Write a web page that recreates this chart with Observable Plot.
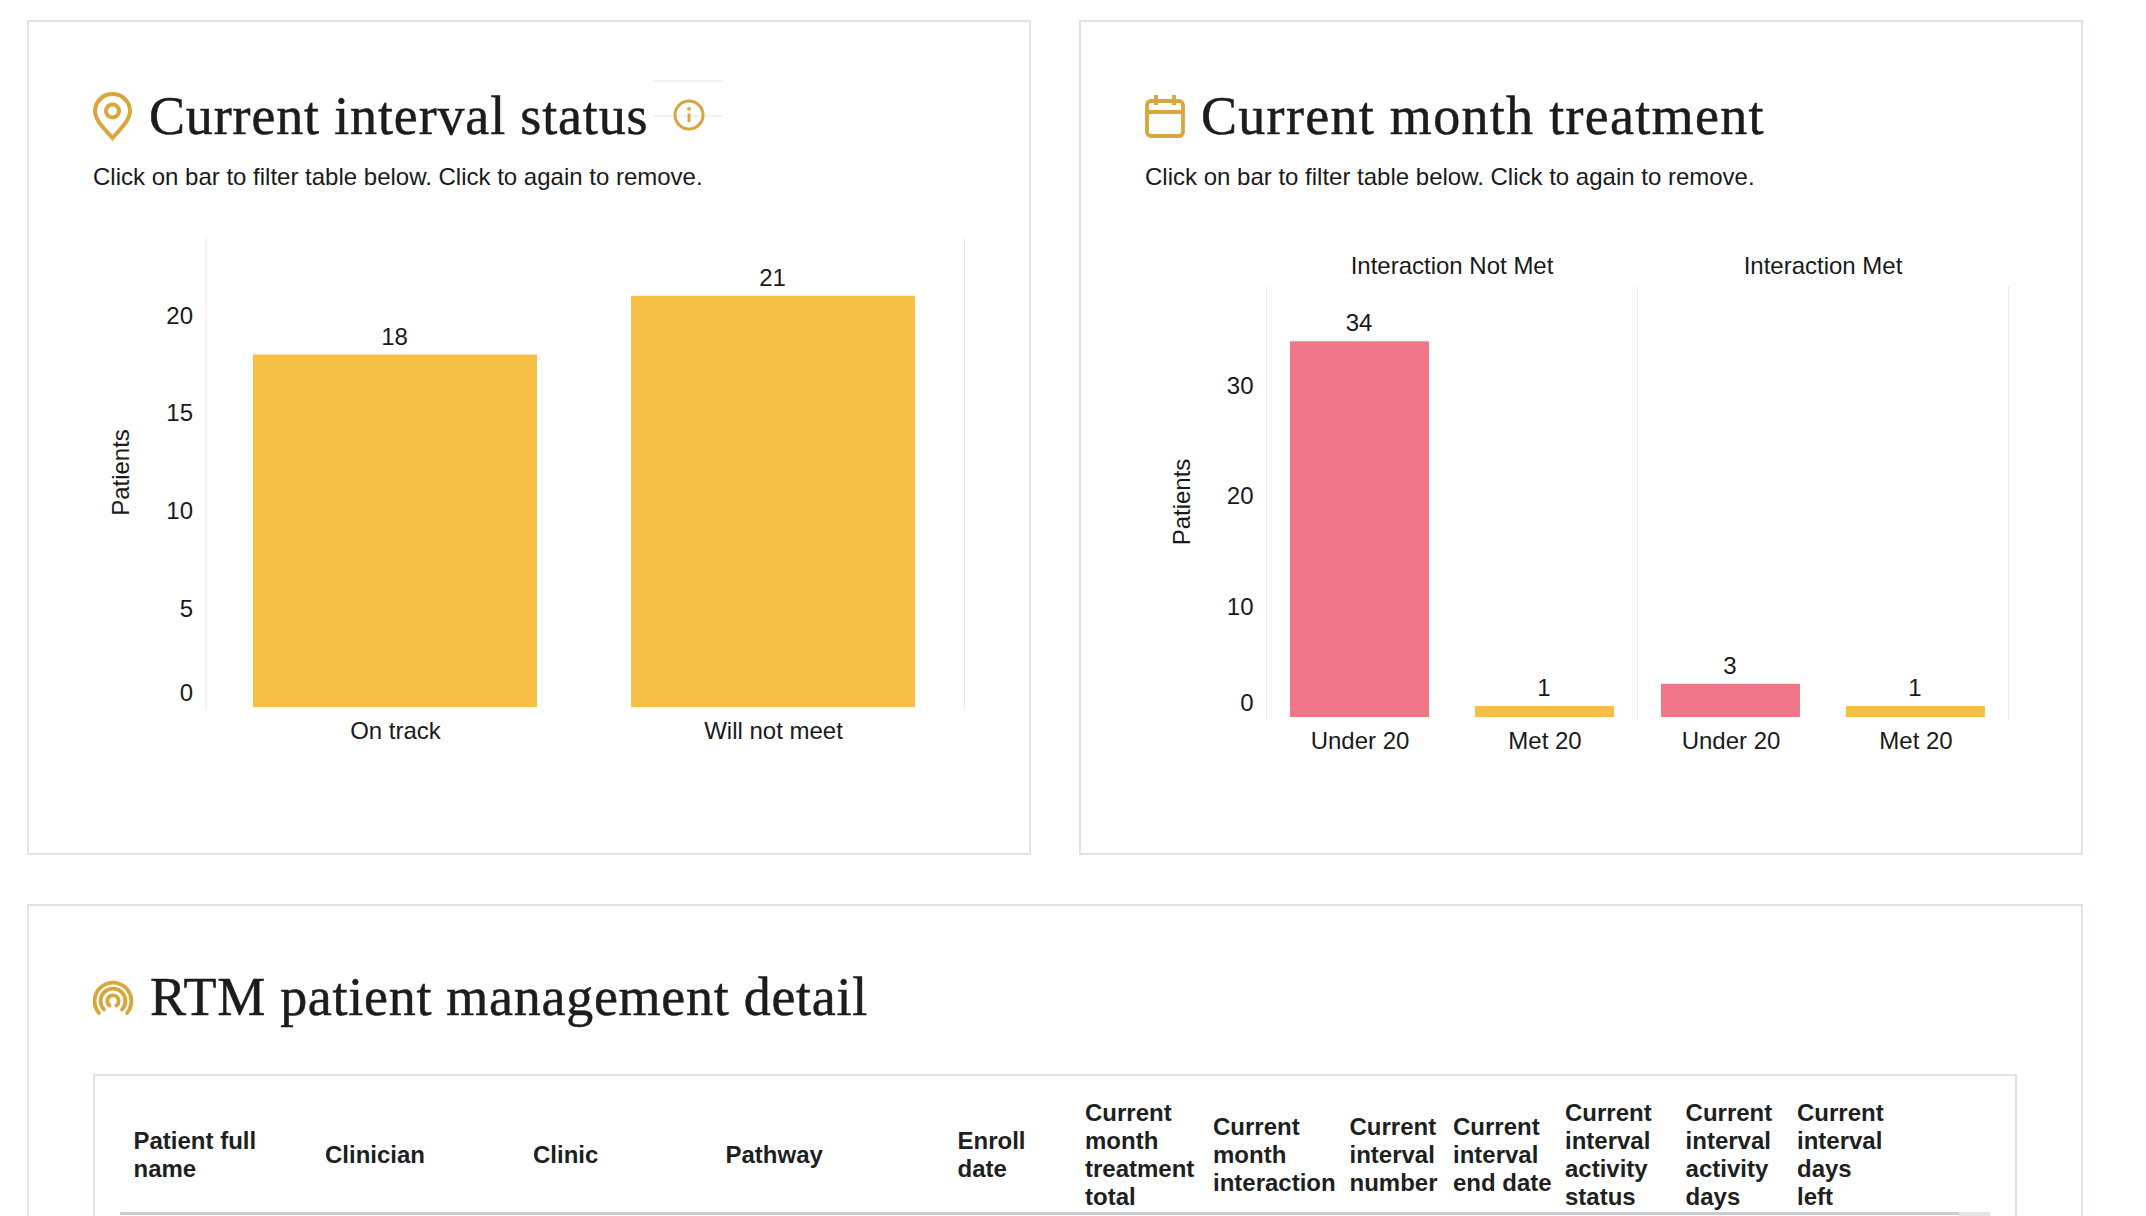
<!DOCTYPE html>
<html><head><meta charset="utf-8">
<script src="https://cdn.jsdelivr.net/npm/d3@7"></script>
<script src="https://cdn.jsdelivr.net/npm/@observablehq/plot@0.6"></script>
<style>
html,body{margin:0;padding:0;background:#fff;width:2146px;height:1216px;overflow:hidden}
#page{position:relative;width:2146px;height:1216px;overflow:hidden;color:#1a1a1a;font-family:"Liberation Sans",Arial,sans-serif}
.box{position:absolute;box-sizing:border-box;border:2px solid #dfe3e8;background:#fff}
.title{position:absolute;font-family:"Liberation Serif",Georgia,serif;font-size:54px;line-height:60px;white-space:nowrap;color:#1c1c1c;-webkit-text-stroke:0.5px #1c1c1c}
.sub{position:absolute;font-size:24px;line-height:30px;white-space:nowrap}
.chart{position:absolute}
.head{position:absolute;top:1099px;height:112px;display:flex;align-items:center;font-weight:bold;font-size:24px;line-height:28px;white-space:pre;color:#1f1f1f}
.icon{position:absolute;overflow:visible}
.faint{position:absolute;background:#f1f1f1;height:2px}
</style></head><body><div id="page"></div>
<script>
const statusCategories = ["On track", "Will not meet"];
const statusValues = [18, 21];
const statusTicks = [20, 15, 10, 5];
const treatmentFacets = ["Interaction Not Met", "Interaction Met"];
const treatmentGroups = ["Under 20", "Met 20"];
const notMetValues = [34, 1];
const metValues = [3, 1];
const treatmentTicks = [30, 20, 10];
const tableHeaders = ["Patient full\nname","Clinician","Clinic","Pathway","Enroll\ndate","Current\nmonth\ntreatment\ntotal","Current\nmonth\ninteraction","Current\ninterval\nnumber","Current\ninterval\nend date","Current\ninterval\nactivity\nstatus","Current\ninterval\nactivity\ndays","Current\ninterval\ndays\nleft"];
const tableHeaderLefts = [133.5,325,533,725.5,957.5,1085,1213,1349.5,1453,1565,1685.6,1797];
const YELLOW = "#f6c047", PINK = "#f0778a", GOLD = "#d9a63c", GRID = "#e9ebee", INK = "#1a1a1a";

const page = document.getElementById("page");
function add(cls, css, html){const d=document.createElement("div");d.className=cls;Object.assign(d.style,css);if(html!==undefined)d.innerHTML=html;page.appendChild(d);return d;}

add("box",{left:"27px",top:"20px",width:"1004px",height:"835px"});
add("box",{left:"1079px",top:"20px",width:"1004px",height:"835px"});
add("box",{left:"27px",top:"904px",width:"2056px",height:"400px"});
add("box",{left:"93px",top:"1074px",width:"1924px",height:"300px"});
add("faint",{left:"653px",top:"80px",width:"70px"});
add("faint",{left:"653px",top:"115px",width:"70px"});

add("title",{left:"149px",top:"86px",letterSpacing:"0.85px"},"Current interval status");
add("title",{left:"1201px",top:"86px",letterSpacing:"1.3px"},"Current month treatment");
add("title",{left:"150px",top:"967px",letterSpacing:"0.72px"},"RTM patient management detail");
add("sub",{left:"93px",top:"161.5px"},"Click on bar to filter table below. Click to again to remove.");
add("sub",{left:"1145px",top:"161.5px"},"Click on bar to filter table below. Click to again to remove.");

function icon(x,y,w,h,vb,body){const s=document.createElementNS("http://www.w3.org/2000/svg","svg");s.setAttribute("class","icon");s.setAttribute("viewBox",vb);s.setAttribute("width",w);s.setAttribute("height",h);s.style.left=x+"px";s.style.top=y+"px";s.innerHTML=body;page.appendChild(s);}
icon(93,92,39,48,"0 0 39 48",`<path d="M19.5 46 C13 38 2 29 2 19 C2 9.5 10 2 19.5 2 C29 2 37 9.5 37 19 C37 29 26 38 19.5 46 Z" fill="none" stroke="${GOLD}" stroke-width="4"/><circle cx="19.5" cy="19" r="6.5" fill="none" stroke="${GOLD}" stroke-width="4"/>`);
icon(1145,94,40,44,"0 0 40 44",`<rect x="2" y="7" width="36" height="35" rx="4" fill="none" stroke="${GOLD}" stroke-width="3.8"/><path d="M2 18H38M11 1V11M29 1V11" fill="none" stroke="${GOLD}" stroke-width="3.8"/>`);
icon(673,99,32,32,"0 0 32 32",`<circle cx="16" cy="16" r="14" fill="none" stroke="${GOLD}" stroke-width="3"/><path d="M16 14.5V23" stroke="${GOLD}" stroke-width="3"/><circle cx="16" cy="9.8" r="1.9" fill="${GOLD}"/>`);
icon(92.8,980.7,40,40,"-20 -20 40 40",`<g fill="none" stroke="${GOLD}" stroke-width="3.8" stroke-linecap="round"><path d="M-14 12 A18.4 18.4 0 1 1 14 12"/><path d="M-9 8.5 A12.4 12.4 0 1 1 9 8.5"/><path d="M-3.5 4.5 A5.7 5.7 0 1 1 3.5 4.5"/></g>`);

tableHeaders.forEach((t,i)=>add("head",{left:tableHeaderLefts[i]+"px"},`<span>${t}</span>`));
add("faint",{left:"120px",top:"1212px",width:"1839px",background:"#c9cdd2",height:"3px"});
add("faint",{left:"1959px",top:"1212px",width:"31px",background:"#e4e6e9",height:"4px"});

const axisStyle = {fontFamily:"'Liberation Sans',Arial,sans-serif",fontSize:"24px",color:INK,background:"transparent",overflow:"visible"};

// Chart 1
const statusRows = statusCategories.map((c,i)=>({category:c,patients:statusValues[i]}));
const chart1 = Plot.plot({
  width:1002,height:560,marginLeft:178.5,marginRight:65,marginTop:18,marginBottom:72,style:axisStyle,
  x:{domain:statusCategories,paddingInner:0.25,paddingOuter:0.128,align:0.49,label:null},
  y:{domain:[0,24],label:null},
  marks:[
    Plot.frame({anchor:"left",stroke:GRID,strokeOpacity:1,insetBottom:-2}),
    Plot.frame({anchor:"right",stroke:GRID,strokeOpacity:1,insetBottom:-2}),
    Plot.barY(statusRows,{x:"category",y:"patients",fill:YELLOW}),
    Plot.text(statusRows,{x:"category",y:"patients",text:d=>String(d.patients),dy:-18,dx:-1,fill:INK,fontSize:24}),
    Plot.axisY({ticks:statusTicks,tickSize:0,tickPadding:13,label:"Patients",labelAnchor:"center",labelArrow:"none",labelOffset:94,fontSize:24}),
    Plot.axisY({ticks:[0],tickSize:0,tickPadding:13,label:null,dy:-14,fontSize:24}),
    Plot.axisX({tickSize:0,tickPadding:14,label:null,fontSize:24})
  ]
});
const c1=add("chart",{left:"27px",top:"219px"});c1.appendChild(chart1);

// Chart 2
const treatmentRows = [
  ...treatmentGroups.map((g,i)=>({facet:treatmentFacets[0],group:g,patients:notMetValues[i]})),
  ...treatmentGroups.map((g,i)=>({facet:treatmentFacets[1],group:g,patients:metValues[i]}))
];
const chart2 = Plot.plot({
  width:1002,height:560,marginLeft:186,marginRight:74,marginTop:47,marginBottom:82,style:axisStyle,
  fx:{domain:treatmentFacets,padding:0,label:null},
  x:{domain:treatmentGroups,paddingInner:0.25,paddingOuter:0.125,label:null},
  y:{domain:[0,39],label:null},
  color:{domain:treatmentGroups,range:[PINK,YELLOW]},
  marks:[
    Plot.frame({anchor:"left",stroke:GRID,strokeOpacity:1,insetBottom:-2}),
    Plot.frame({anchor:"right",stroke:GRID,strokeOpacity:1,insetBottom:-2}),
    Plot.barY(treatmentRows,{fx:"facet",x:"group",y:"patients",fill:"group"}),
    Plot.text(treatmentRows,{fx:"facet",x:"group",y:"patients",text:d=>String(d.patients),dy:-18,dx:-1,fill:INK,fontSize:24}),
    Plot.axisY({ticks:treatmentTicks,tickSize:0,tickPadding:13,label:"Patients",labelAnchor:"center",labelArrow:"none",labelOffset:94,fontSize:24}),
    Plot.axisY({ticks:[0],tickSize:0,tickPadding:13,label:null,dy:-14,fontSize:24}),
    Plot.axisX({tickSize:0,tickPadding:14,label:null,fontSize:24}),
    Plot.axisFx({anchor:"top",tickSize:0,tickPadding:13,label:null,fontSize:24})
  ]
});
const c2=add("chart",{left:"1079.5px",top:"239px"});c2.appendChild(chart2);
</script></body></html>
